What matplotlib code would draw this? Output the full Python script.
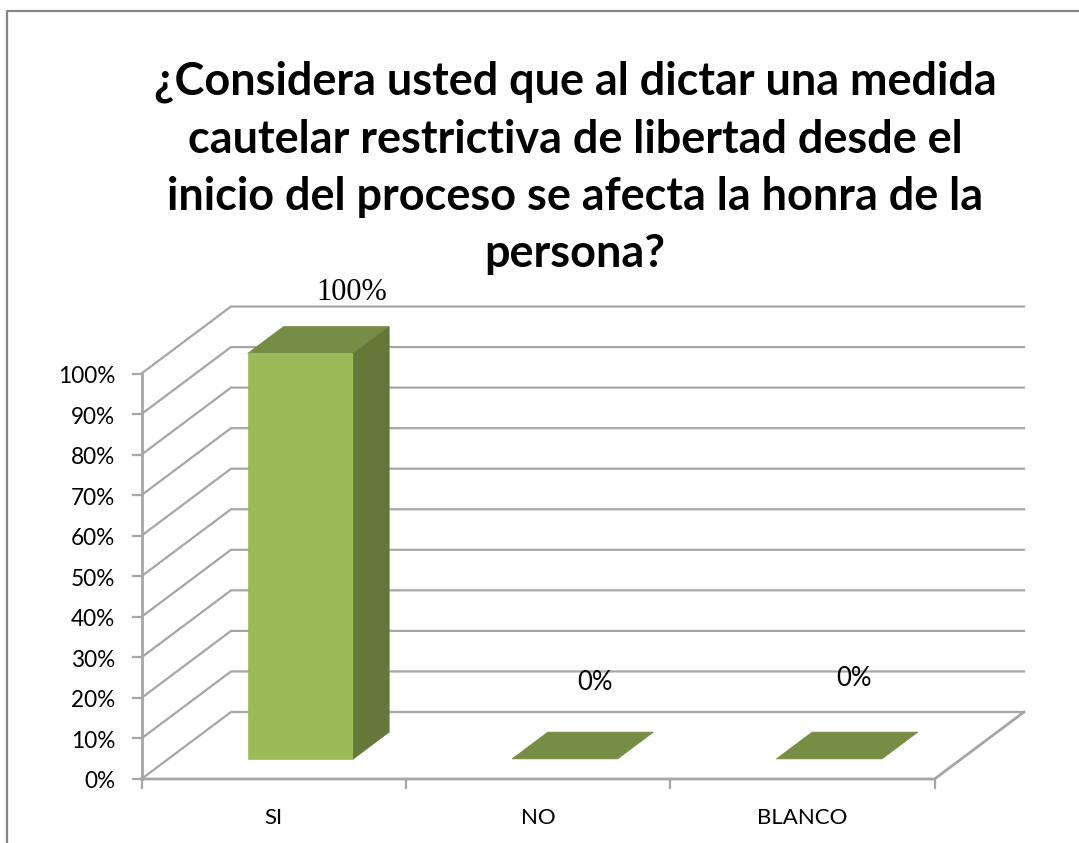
import matplotlib
matplotlib.use('Agg')
import matplotlib.pyplot as plt
from matplotlib.patches import Polygon

title_lines = [
    '¿Considera usted que al dictar una medida',
    'cautelar restrictiva de libertad desde el',
    'inicio del proceso se afecta la honra de la',
    'persona?',
]
categories = ['SI', 'NO', 'BLANCO']
values = [100, 0, 0]
value_labels = ['100%', '0%', '0%']
ticks = [0, 10, 20, 30, 40, 50, 60, 70, 80, 90, 100]

# pixel frame of the fake 3d box
ORIGIN_X = 141.5
ORIGIN_Y = 779
PLANE_W = 793
PLANE_H = 405.5
DEPTH_X = 89.5
DEPTH_Y = 67
BAR_W = 0.4
BAR_DEPTH = (0.3, 0.7)

LINE = '#a6a6a6'
FRONT = '#9bbb59'
TOP = '#778d45'
SIDE = '#66773a'


def project(cat, val, depth):
    # cat in category units, val in percent, depth 0 front to 1 back
    x = ORIGIN_X + cat / len(categories) * PLANE_W + depth * DEPTH_X
    y = ORIGIN_Y - val / 100 * PLANE_H - depth * DEPTH_Y
    return x, y


def poly(ax, pts, color, z):
    ax.add_patch(Polygon(pts, closed=True, facecolor=color, edgecolor=color, linewidth=0.5, zorder=z))


def draw_bar(ax, i, val):
    c0 = i + 0.5 - BAR_W / 2
    c1 = i + 0.5 + BAR_W / 2
    d0, d1 = BAR_DEPTH
    poly(ax, [project(c0, val, d0), project(c1, val, d0), project(c1, val, d1), project(c0, val, d1)], TOP, 4)
    if val > 0:
        poly(ax, [project(c0, 0, d0), project(c1, 0, d0), project(c1, val, d0), project(c0, val, d0)], FRONT, 5)
        poly(ax, [project(c1, 0, d0), project(c1, 0, d1), project(c1, val, d1), project(c1, val, d0)], SIDE, 5)


fig = plt.figure(figsize=(10.79, 8.43), dpi=100)
ax = fig.add_axes([0, 0, 1, 1])
ax.set_xlim(0, 1079)
ax.set_ylim(843, 0)
ax.axis('off')

# chart frame, cut by the image on the right and bottom
ax.plot([7, 7, 1079], [843, 11, 11], color='#868686', lw=1.6, zorder=1)

n = len(categories)
for t in ticks:
    x0, y0 = project(0, t, 0)
    x1, y1 = project(0, t, 1)
    x2, y2 = project(n, t, 1)
    ax.plot([x0, x1, x2], [y0, y1, y2], color=LINE, lw=1.6, zorder=2, solid_joinstyle='miter')
    ax.plot([x0 - 9, x0], [y0, y0], color=LINE, lw=1.6, zorder=3)
    ax.text(x0 - 26, y0 + 3, f'{t}%', ha='right', va='center', fontsize=16.3, family='Lato', color='black')

# floor and axes
x0, y0 = project(0, 0, 0)
x1, y1 = project(n, 0, 0)
x2, y2 = project(n, 0, 1)
ax.plot([x0, x1, x2], [y0, y1, y2], color=LINE, lw=2, zorder=3)
xt, yt = project(0, 100, 0)
ax.plot([x0, xt], [y0, yt], color=LINE, lw=2, zorder=3)
for i in range(n + 1):
    xi, yi = project(i, 0, 0)
    ax.plot([xi, xi], [yi, yi + 9], color=LINE, lw=1.6, zorder=3)

for i, (cat, val) in enumerate(zip(categories, values)):
    draw_bar(ax, i, val)
    xc, _ = project(i + 0.5, 0, 0)
    ax.text(xc, 818, cat, ha='center', va='center', fontsize=16, family='Lato', color='black')

# data labels sit by hand in the source chart
ax.text(352, 292, value_labels[0], ha='center', va='center', fontsize=22, family='Liberation Serif', color='black')
ax.text(595, 682, value_labels[1], ha='center', va='center', fontsize=18.5, family='Lato', color='black')
ax.text(854, 679, value_labels[2], ha='center', va='center', fontsize=18.5, family='Lato', color='black')

for line, y in zip(title_lines, [82, 140, 197, 254]):
    ax.text(575, y, line, ha='center', va='center', fontsize=32.4, fontweight='bold', family='Lato', color='black')

fig.savefig('out.png', dpi=100)
